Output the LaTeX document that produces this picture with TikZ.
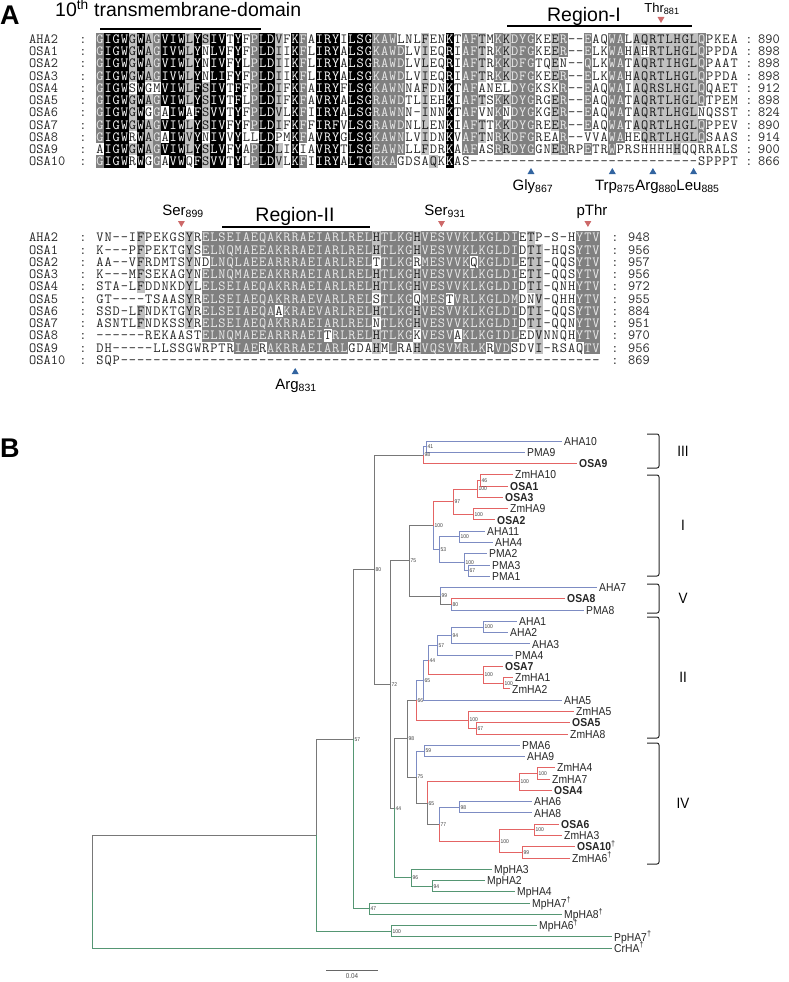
\documentclass[tikz,border=0pt]{standalone}
\usepackage{fontspec}
\setmainfont{Liberation Sans}
\newfontfamily\treefont[FakeStretch=0.9]{Liberation Sans}
\usepackage{tikz}
\usetikzlibrary{positioning,shapes.geometric}
\definecolor{AlnDark}{RGB}{128,128,128}
\definecolor{AlnLight}{RGB}{192,192,192}
\definecolor{TreeBlue}{RGB}{125,140,195}
\definecolor{TreeRed}{RGB}{228,100,100}
\definecolor{TreeGreen}{RGB}{85,150,115}
\definecolor{TreeGray}{RGB}{120,120,120}
\definecolor{MarkRed}{RGB}{205,105,105}
\definecolor{MarkBlue}{RGB}{50,100,160}
\newcommand\alnfont{\ttfamily\fontsize{14}{14}\selectfont}
\tikzset{
  cellk/.style={fill=black},
  celld/.style={fill=AlnDark},
  celll/.style={fill=AlnLight},
  res/.style={inner sep=0pt,text height=8.55pt,text depth=0pt,font=\alnfont},
  resk/.style={res,text=white},
  resd/.style={res,text=black!8},
  resl/.style={res,text=black!90},
  resw/.style={res,text=black!85},
  seqname/.style={res,anchor=west,text=black!85},
  colon/.style={res,text=black!85},
  panel/.style={inner sep=0pt,font=\fontsize{27}{27}\selectfont\bfseries},
  head/.style={inner sep=0pt,anchor=base,font=\fontsize{19.5}{20}\selectfont},
  site/.style={inner sep=0pt,anchor=base,font=\fontsize{15}{16}\selectfont},
  bar/.style={draw=black,line width=2pt},
  redmark/.style={regular polygon,regular polygon sides=3,shape border rotate=180,
    fill=MarkRed,inner sep=0pt,minimum size=8pt},
  bluemark/.style={regular polygon,regular polygon sides=3,fill=MarkBlue,
    inner sep=0pt,minimum size=8pt},
}
\tikzset{branch/.style={line width=1pt},
  grayline/.style={branch,draw=TreeGray}, blueline/.style={branch,draw=TreeBlue},
  redline/.style={branch,draw=TreeRed}, greenline/.style={branch,draw=TreeGreen},
  leaf/.style={anchor=west,inner sep=0pt,xshift=2pt,text height=8.2pt,text depth=0pt,
    font=\treefont\fontsize{11.5}{12}\selectfont,text=black!85},
  boot/.style={anchor=west,inner sep=0pt,xshift=1.5pt,
    font=\treefont\fontsize{5.5}{6}\selectfont,text=black!75},
  clade/.style={draw=black!85,line width=1pt,rounded corners=2pt},
  roman/.style={inner sep=0pt,font=\treefont\fontsize{15}{16}\selectfont},
  scalebar/.style={draw=black!60,line width=0.8pt},
  scaletxt/.style={inner sep=0pt,font=\treefont\fontsize{7}{8}\selectfont,text=black!70}}
% one alignment row: id, y, residues, shading (k black, d dark, l light, w none)
\makeatletter
\newcount\alncol
\def\aln@pad{wwwwwwwwwwwwwwwwwwwwwwwwwwwwwwwwwwwwwwwwwwwwwwwwwwwwwwwwwwwwwwwwwwwwwwwwwwwwwwwwwwwwwwwwww}
\newcommand\alnrow[4]{%
  \global\alncol=0
  \def\alnid{#1}\def\alny{#2}%
  \expandafter\aln@start\aln@pad\@nil{#3}{#4}}
\def\aln@start#1\@nil#2#3{\aln@next#2\relax\@nil#3#1\relax\@nil}
\def\aln@next#1#2\@nil#3#4\@nil{%
  \ifx\relax#1\else
    \aln@cell{#1}{#3}%
    \global\advance\alncol by 1
    \aln@next#2\@nil#4\@nil
  \fi}
\def\aln@cell#1#2{%
  \pgfmathsetmacro\alnx{96+8.13*\the\alncol}%
  \if#2w\else
    \fill[cell#2] (\alnx,\alny-6.15) rectangle ++(8.2,12.3);
  \fi
  \node[res#2] (\alnid-\the\alncol) at (\alnx+4.065,\alny) {#1};}
\makeatother

\begin{document}
\begin{tikzpicture}[x=1pt,y=-1pt]
\useasboundingbox (0,0) rectangle (788,982);
\node[panel,anchor=base west] (pA) at (0,25) {A};
\node[panel,anchor=base west] (pB) at (0,457) {B};

% block 1
\node[head,anchor=base west] (tm) at (55,17) {10\textsuperscript{th} transmembrane-domain};
\draw[bar] (100,29.5) -- (261,29.5);
\node[head] (regI) at (584,21.5) {Region-I};
\draw[bar] (507,26) -- (692,26);
\node[site,font=\fontsize{13}{14}\selectfont] (sThr) at (662,12.5) {Thr\textsubscript{881}};
\node[redmark] (mThr) at (661,19) {};

\alnrow{t0}{39}{GIGWGWAGVI WLYSIVTYFP LDVFKFAIRY ILSGKAWLNL FENKTAFTMK KDYGKEER-- EAQWALAQRT LHGLQPKEA}
 {dkkklkldkk klklkkwkwd kklwkdwkkk wkkkdddwww lwwkwddlwd ldddwwldww dwwddwllll lllldwwww}
\alnrow{t1}{51.25}{GIGWGWAGIV WLYNLVFYFP LDIIKFLIRY ALSGKAWDLV IEQRIAFTRK KDFGKEER-- ELKWAHAHRT LHGLQPPDA}
 {dkkklkldkk klkwkkwkwd kklwkdwkkk wkkkddddww lwwkwddlwd ldddwwldww dwwddwlwll lllldwwww}
\alnrow{t2}{63.5}{GIGWGWAGVI WLYNIVFYLP LDIIKFLIRY ALSGRAWDLV LEQRIAFTRK KDFGTQEN-- QLKWATAQRT IHGLQPAAT}
 {dkkklkldkk klkwkkwkwd kklwkdwkkk wkkkddddww lwwkwddlwd ldddwwlwww dwwddwllll lllldwwww}
\alnrow{t3}{75.75}{GIGWGWAGIV WLYNLIFYFP LDIIKFLIRY ALSGKAWDLV IEQRIAFTRK KDFGKEER-- ELKWAHAQRT LHGLQPPDA}
 {dkkklkldkk klkwkkwkwd kklwkdwkkk wkkkddddww lwwkwddlwd ldddwwldww dwwddwllll lllldwwww}
\alnrow{t4}{88}{GIGWSWGMVI WLFSIVTFFP LDIFKFAIRY FLSGKAWNNA FDNKTAFANE LDYGKSKR-- EAQWAIAQRS LHGLQQAET}
 {dkkkwkwwkk klklkkwkwd kklwkdwkkk wkkkddddww lwwkwddwww wdddwwwdww dwwddwllll lllldwwww}
\alnrow{t5}{100.25}{GIGWGWAGVI WLYSIVTFLP LDIFKFAVRY ALSGRAWDTL IEHKIAFTSK KDYGRGER-- EAQWATAQRT LHGLQTPEM}
 {dkkklkldkk klklkkwkwd kklwkdwkkk wkkkddddww lwwkwddlwd ldddwwldww dwwddwllll lllldwwww}
\alnrow{t6}{112.5}{GIGWGWGGAI WAFSVVTYFP LDVLKFIIRY ALSGRAWNN- INNKTAFVNK NDYGKGER-- EAQWATAQRT LHGLNQSST}
 {dkkklkwdwk kwklkkwkwd kklwkdwkkk wkkkddddww lwwkwddwwd wdddwwldww dwwddwllll llllwwwww}
\alnrow{t7}{124.75}{GIGWGWAGVI WLYSIVFYFP LDIFKFFIRF VLSGRAWDNL LENKIAFTTK KDYGREER-- EAQWATAQRT LHGLQPPEV}
 {dkkklkldkk klklkkwkwd kklwkdwkkk wkkkddddww lwwkwddlwd ldddwwldww dwwddwllll lllldwwww}
\alnrow{t8}{137}{GIGWRWAGAI WVYNIVVYLL LDPMKFAVRY GLSGKAWNLV IDNKVAFTNR KDFGREAR-- VVAWAHEQRT LHGLQSAAS}
 {dkkkwkldwk klkwkkwkww kkwwkdwkkk wkkkddddww lwwkwddlwd ldddwwwdww wwwddwwlll lllldwwww}
\alnrow{t9}{149.25}{AIGWGWAGVI WLYSLVFYAP LDLIKIAVRY TLSGEAWNLL FDRKAAFASR RDYGGNERRP ETRWPRSHHH HHQQRRALS}
 {wkkklkldkk klklkkwkwd kklwkwwkkk wkkkddddww lwwkwddwwd ldddwwldww dwwdwwwwww wlwwwwwww}
\alnrow{t10}{161.5}{GIGWRWGGAV WQFSVVTYLP LDVLKFIIRY ALTGGKAGDS AQKKAS---- ---------- ---------- ----SPPPT}
 {dkkkwkwdwk kwklkkwkwd kklwkdwkkk wkkkdddwww wlwkwwwwww}

\node[bluemark] (mGly) at (531,172) {};
\node[bluemark] (mTrp) at (612.3,172) {};
\node[bluemark] (mArg) at (652.9,172) {};
\node[bluemark] (mLeu) at (693.6,172) {};
\node[site] (sGly) at (533,190) {Gly\textsubscript{867}};
\node[site] (sTrp) at (615,190) {Trp\textsubscript{875}};
\node[site] (sArg) at (656,190) {Arg\textsubscript{880}};
\node[site] (sLeu) at (698,190) {Leu\textsubscript{885}};

% block 2
\node[site] (sS899) at (183,215) {Ser\textsubscript{899}};
\node[head] (regII) at (295,221.5) {Region-II};
\draw[bar] (222,227) -- (370,227);
\node[site] (sS931) at (445,215) {Ser\textsubscript{931}};
\node[site] (spT) at (592,215) {pThr};
\node[redmark] (mS899) at (181.4,223) {};
\node[redmark] (mS931) at (441.5,223) {};
\node[redmark] (mpT) at (587.9,223) {};

\alnrow{b0}{237.5}{VN--IFPEKG SYRELSEIAE QAKRRAEIAR LRELHTLKGH VESVVKLKGL DIETP-S-HY TV}
 {wwwwwlwwww wlwddddddd dddddddddd ddddlddddl dddddddddd ddwlwwwwwd dd}
\alnrow{b1}{249.75}{K---PFPEKT GYSELNQMAE EAKRRAEIAR LRELHTLKGH VESVVKLKGL DIDTI-HQSY TV}
 {wwwwwlwwww wlwddddddd dddddddddd ddddlddddl dddddddddd ddwllwwwwd dd}
\alnrow{b2}{262}{AA--VFRDMT SYNDLNQLAE EARRRAEIAR LRELTTLKGR MESVVKQKGL DLETI-QQSY TV}
 {wwwwwlwwww wlwwdddddd dddddddddd ddddwddddw ddddddwddd ddwllwwwwd dd}
\alnrow{b3}{274.25}{K---MFSEKA GYNELNQMAE EAKRRAEIAR LRELHTLKGH VESVVKLKGL DIETI-QQSY TV}
 {wwwwwlwwww wlwddddddd dddddddddd ddddlddddl dddddddddd ddwllwwwwd dd}
\alnrow{b4}{286.5}{STA-LFDDNK DYLELSEIAE QAKRRAEIAR LRELHTLKGH VESVVKLKGL DIDTI-QNHY TV}
 {wwwwwlwwww wlwddddddd dddddddddd ddddlddddl dddddddddd ddwllwwwwd dd}
\alnrow{b5}{298.75}{GT----TSAA SYRELSEIAE QAKRRAEVAR LRELSTLKGQ MESTVRLKGL DMDNV-QHHY TV}
 {wwwwwwwwww wlwddddddd dddddddddd ddddwddddw dddwdddddd ddwwlwwwwd dd}
\alnrow{b6}{311}{SSD-LFNDKT GYRELSEIAE QAAKRAEVAR LRELHTLKGH VESVVKLKGL DIDTI-QQSY TV}
 {wwwwwlwwww wlwddddddd ddwddddddd ddddlddddl dddddddddd ddwllwwwwd dd}
\alnrow{b7}{323.25}{ASNTLFNDKS SYRELSEIAE QAKRRAEIAR LRELNTLKGH VESVVKLKGL DIDTI-QQNY TV}
 {wwwwwlwwww wlwddddddd dddddddddd ddddwddddl dddddddddd ddwllwwwwd dd}
\alnrow{b8}{335.5}{------REKA ASTELNQMAE EARRRAEITR LRELHTLKGK VESVAKLKGI DLEDVNNQHY TV}
 {wwwwwwwwww wwwddddddd ddddddddwd ddddlddddw ddddwddddd ddwwlwwwwd dd}
\alnrow{b9}{347.75}{DH-----LLS SGWRPTRIAE RAKRRAEIAR LGDAHMLRAH VQSVMRLKRV DSDVI-RSAQ TV}
 {wwwwwwwwww wwwwwwwddd wddddddddd dwwwlwdwwl ddddddddwd dwwwlwwwww dd}
\alnrow{b10}{360}{SQP------- ---------- ---------- ---------- ---------- ---------- --}
 {w}

\node[bluemark] (mR831) at (295.2,372) {};
\node[site] (sR831) at (296,389) {Arg\textsubscript{831}};

% sequence names and lengths
\foreach \nm/\ta/\tb [count=\i from 0] in {AHA2/890/948, OSA1/898/956, OSA2/898/957,
    OSA3/898/956, OSA4/912/972, OSA5/898/955, OSA6/824/884, OSA7/890/951,
    OSA8/914/970, OSA9/900/956, OSA10/866/869}{
  \node[seqname] (nt\i) at (29,39+12.25*\i) {\nm};
  \node[colon] (ct\i) at (83,39+12.25*\i) {:};
  \node[colon] (cu\i) at (749,39+12.25*\i) {:};
  \node[seqname] (et\i) at (758,39+12.25*\i) {\ta};
  \node[seqname] (nb\i) at (29,237.5+12.25*\i) {\nm};
  \node[colon] (cb\i) at (83,237.5+12.25*\i) {:};
  \node[colon] (cv\i) at (615,237.5+12.25*\i) {:};
  \node[seqname] (eb\i) at (628,237.5+12.25*\i) {\tb};
}

% tree: inner nodes
\coordinate (root) at (92,891.7);
\coordinate (nbase) at (316,835.2);
\coordinate (n57a) at (353,739.2);
\coordinate (n80a) at (374,569.8);
\coordinate (n98a) at (423,455.1);
\coordinate (n41) at (426,446.7);
\coordinate (n72) at (390,684.5);
\coordinate (n75a) at (409,560.8);
\coordinate (n100I) at (433,525.6);
\coordinate (n97) at (453,501.6);
\coordinate (n100a) at (477,489.0);
\coordinate (n46) at (480,480.5);
\coordinate (n100b) at (473,514.3);
\coordinate (n53) at (439,549.5);
\coordinate (n100c) at (459,536.8);
\coordinate (n100d) at (464,562.2);
\coordinate (n67a) at (468,570.6);
\coordinate (n99a) at (440,596.0);
\coordinate (n80b) at (451,604.5);
\coordinate (n44a) at (394,808.2);
\coordinate (n98b) at (407,738.6);
\coordinate (n66) at (416,700.1);
\coordinate (n65a) at (423,680.2);
\coordinate (n44b) at (428,660.1);
\coordinate (n57b) at (437,645.3);
\coordinate (n94a) at (451,635.4);
\coordinate (n100e) at (483,627.0);
\coordinate (n100g) at (483,674.9);
\coordinate (n100f) at (503,683.3);
\coordinate (n100h) at (468,720.0);
\coordinate (n67b) at (476,728.4);
\coordinate (n75b) at (416,777.0);
\coordinate (n59) at (424,751.0);
\coordinate (n65b) at (427,803.1);
\coordinate (n100j) at (519,781.9);
\coordinate (n100i) at (537,773.5);
\coordinate (n77) at (439,824.2);
\coordinate (n98c) at (459,807.3);
\coordinate (n100l) at (499,841.1);
\coordinate (n100k) at (534,829.8);
\coordinate (n99b) at (522,852.3);
\coordinate (n96) at (411,877.7);
\coordinate (n94b) at (432,886.2);
\coordinate (n47) at (369,908.7);
\coordinate (n100m) at (391,931.2);

% tree: leaves
\foreach \nm/\xx/\yy/\lab in {AHA10/562/441.0/AHA10, PMA9/525/452.3/PMA9,
    OSA9/577/463.5/\textbf{OSA9}, ZmHA10/513/474.8/ZmHA10, OSA1/508/486.1/\textbf{OSA1},
    OSA3/503/497.4/\textbf{OSA3}, ZmHA9/508/508.6/ZmHA9, OSA2/495/519.9/\textbf{OSA2},
    AHA11/485/531.2/AHA11, AHA4/493/542.4/AHA4, PMA2/487/553.7/PMA2, PMA3/490/565.0/PMA3,
    PMA1/490/576.2/PMA1, AHA7/597/587.5/AHA7, OSA8/565/598.8/\textbf{OSA8},
    PMA8/584/610.1/PMA8, AHA1/517/621.3/AHA1, AHA2/508/632.6/AHA2, AHA3/530/643.9/AHA3,
    PMA4/513/655.1/PMA4, OSA7/503/666.4/\textbf{OSA7}, ZmHA1/513/677.7/ZmHA1,
    ZmHA2/510/688.9/ZmHA2, AHA5/562/700.2/AHA5, ZmHA5/574/711.5/ZmHA5,
    OSA5/570/722.8/\textbf{OSA5}, ZmHA8/568/734.0/ZmHA8, PMA6/520/745.3/PMA6,
    AHA9/525/756.6/AHA9, ZmHA4/555/767.8/ZmHA4, ZmHA7/550/779.1/ZmHA7,
    OSA4/552/790.4/\textbf{OSA4}, AHA6/532/801.6/AHA6, AHA8/532/812.9/AHA8,
    OSA6/559/824.2/\textbf{OSA6}, ZmHA3/562/835.4/ZmHA3,
    OSA10/575/846.7/\textbf{OSA10}\textsuperscript{\textdagger},
    ZmHA6/570/858.0/ZmHA6\textsuperscript{\textdagger}, MpHA3/492/869.3/MpHA3,
    MpHA2/485/880.5/MpHA2, MpHA4/515/891.8/MpHA4,
    MpHA7/530/903.1/MpHA7\textsuperscript{\textdagger},
    MpHA8/562/914.3/MpHA8\textsuperscript{\textdagger},
    MpHA6/537/925.6/MpHA6\textsuperscript{\textdagger},
    PpHA7/612/936.9/PpHA7\textsuperscript{\textdagger},
    CrHA/612/948.1/CrHA\textsuperscript{\textdagger}}{
  \coordinate (l\nm) at (\xx,\yy);
  \node[leaf] (t\nm) at (l\nm) {\lab};
}

% tree: branches
\foreach \a/\b in {root/nbase, nbase/n57a, n57a/n80a, n80a/n98a, n80a/n72, n72/n75a,
    n72/n44a, n75a/n100I, n75a/n99a, n99a/n80b, n44a/n98b, n98b/n66, n98b/n75b,
    n75b/n65b, n65b/n77}
  \draw[grayline] (\a) |- (\b);
\foreach \a/\b in {root/lCrHA, nbase/n100m, n100m/lMpHA6, n100m/lPpHA7, n57a/n47,
    n47/lMpHA7, n47/lMpHA8, n44a/n96, n96/lMpHA3, n96/n94b, n94b/lMpHA2, n94b/lMpHA4}
  \draw[greenline] (\a) |- (\b);
\foreach \a/\b in {n98a/n41, n41/lAHA10, n41/lPMA9, n100I/n53, n53/n100c, n53/n100d,
    n100c/lAHA11, n100c/lAHA4, n100d/lPMA2, n100d/n67a, n67a/lPMA3, n67a/lPMA1,
    n99a/lAHA7, n80b/lPMA8, n66/n65a, n65a/n44b, n65a/lAHA5, n44b/n57b, n57b/n94a,
    n57b/lPMA4, n94a/n100e, n94a/lAHA3, n100e/lAHA1, n100e/lAHA2, n75b/n59,
    n59/lPMA6, n59/lAHA9, n77/n98c, n98c/lAHA6, n98c/lAHA8}
  \draw[blueline] (\a) |- (\b);
\foreach \a/\b in {n98a/lOSA9, n100I/n97, n97/n100a, n97/n100b, n100a/n46, n100a/lOSA3,
    n46/lZmHA10, n46/lOSA1, n100b/lZmHA9, n100b/lOSA2, n80b/lOSA8, n44b/n100g,
    n100g/lOSA7, n100g/n100f, n100f/lZmHA1, n100f/lZmHA2, n66/n100h, n100h/lZmHA5,
    n100h/n67b, n67b/lOSA5, n67b/lZmHA8, n65b/n100j, n100j/n100i, n100j/lOSA4,
    n100i/lZmHA4, n100i/lZmHA7, n77/n100l, n100l/n100k, n100l/n99b, n100k/lOSA6,
    n100k/lZmHA3, n99b/lOSA10, n99b/lZmHA6}
  \draw[redline] (\a) |- (\b);

% bootstrap values
\foreach \nd/\bs in {n41/41, n98a/98, n80a/80, n72/72, n75a/75, n100I/100, n97/97,
    n46/46, n100a/100, n100b/100, n53/53, n100c/100, n100d/100, n67a/67, n99a/99,
    n80b/80, n44a/44, n98b/98, n66/66, n65a/65, n44b/44, n57b/57, n94a/94, n100e/100,
    n100g/100, n100f/100, n100h/100, n67b/67, n75b/75, n59/59, n65b/65, n100j/100,
    n100i/100, n77/77, n98c/98, n100l/100, n100k/100, n99b/99, n96/96, n94b/94,
    n57a/57, n47/47, n100m/100}
  \node[boot] (b\nd) at (\nd) {\bs};

% clades
\foreach \ya/\yb/\rn in {434/468/III, 475/576/I, 584/613/V, 617/738/II, 743/864/IV}{
  \draw[clade] (647,\ya) -- (659,\ya) -- (659,\yb) -- (647,\yb);
  \node[roman] (r\rn) at (683,{(\ya+\yb)/2}) {\rn};
}

% scale
\coordinate (sbl) at (326,970.7);
\coordinate (sbr) at (378,970.7);
\coordinate (sbm) at (352,970.7);
\draw[scalebar] (sbl) -- (sbr);
\node[scaletxt,below=3pt of sbm] (sbt) {0.04};
\end{tikzpicture}
\end{document}
